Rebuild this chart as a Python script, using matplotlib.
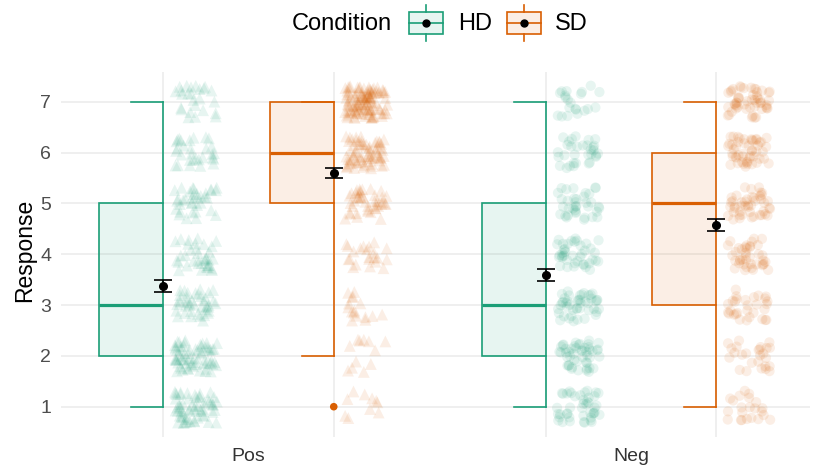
import matplotlib
matplotlib.use("Agg")
import matplotlib.pyplot as plt
import numpy as np
from matplotlib.colors import to_rgba
from matplotlib.patches import Rectangle

plt.rcParams['font.family'] = ['Liberation Sans', 'DejaVu Sans']

# data: number of responses per level (1..7)
levels = [1, 2, 3, 4, 5, 6, 7]
valence = ["Pos", "Neg"]
conditions = ["HD", "SD"]
counts_pos_hd = [60, 65, 40, 35, 35, 30, 25]
counts_pos_sd = [10, 12, 16, 22, 42, 70, 115]
counts_neg_hd = [43, 48, 45, 40, 36, 32, 21]
counts_neg_sd = [22, 26, 30, 40, 45, 50, 52]
counts = {("Pos", "HD"): counts_pos_hd, ("Pos", "SD"): counts_pos_sd,
          ("Neg", "HD"): counts_neg_hd, ("Neg", "SD"): counts_neg_sd}

colors = {"HD": "#1B9E77", "SD": "#D95F02"}
markers = {"Pos": "^", "Neg": "o"}
msize = {"Pos": 72, "Neg": 54}

W, H = 813, 469
fig = plt.figure(figsize=(W / 100, H / 100), dpi=100)


def px_rect(x0, y0, x1, y1):
    return [x0 / W, 1 - y1 / H, (x1 - x0) / W, (y1 - y0) / H]


ax = fig.add_axes(px_rect(61, 72, 810, 437))
ax.set_xlim(0.510, 2.468)
ax.set_ylim(0.404, 7.584)
for s in ax.spines.values():
    s.set_visible(False)

dodge = 0.223
box_w = 0.167
cap_w = 0.084
jit_off = 0.085
jit_w = 0.056
jit_h = 0.32
grid_col = "#EBEBEB"

for lv in levels:
    ax.axhline(lv, color=grid_col, lw=1.1, zorder=0)
for vi in range(len(valence)):
    for c in (-dodge, dodge):
        ax.axvline(vi + 1 + c, color=grid_col, lw=1.1, zorder=0)

# jitter only moves the marks around their level, like geom_jitter
rng = np.random.default_rng(11)

for vi, v in enumerate(valence):
    for c in conditions:
        col = colors[c]
        center = vi + 1 + (-dodge if c == "HD" else dodge)
        data = np.repeat(levels, counts[(v, c)]).astype(float)
        q1, med, q3 = np.percentile(data, [25, 50, 75])
        iqr = q3 - q1
        w_lo = data[data >= q1 - 1.5 * iqr].min()
        w_hi = data[data <= q3 + 1.5 * iqr].max()
        outl = np.unique(data[(data < w_lo) | (data > w_hi)])

        # half boxplot on the left of the position
        ax.add_patch(Rectangle((center - box_w, q1), box_w, q3 - q1,
                               facecolor=to_rgba(col, 0.1), edgecolor=col,
                               lw=1.2, zorder=2))
        ax.plot([center - box_w, center], [med, med], color=col, lw=2.3,
                solid_capstyle="butt", zorder=3)
        ax.plot([center, center], [w_lo, q1], color=col, lw=1.2, zorder=2)
        ax.plot([center, center], [q3, w_hi], color=col, lw=1.2, zorder=2)
        ax.plot([center - cap_w, center], [w_lo, w_lo], color=col, lw=1.2, zorder=2)
        ax.plot([center - cap_w, center], [w_hi, w_hi], color=col, lw=1.2, zorder=2)
        if len(outl):
            ax.scatter(np.full(len(outl), center), outl, s=30, color=col,
                       edgecolors="none", zorder=3)

        # jittered raw responses on the right
        jx = center + jit_off + rng.uniform(-jit_w, jit_w, len(data))
        jy = data + rng.uniform(-jit_h, jit_h, len(data))
        ax.scatter(jx, jy, s=msize[v], marker=markers[v], color=col, alpha=0.1,
                   edgecolors="none", zorder=1)

        # mean +/- standard error
        mean = data.mean()
        se = data.std(ddof=1) / np.sqrt(len(data))
        ax.errorbar(center, mean, yerr=se, fmt="o", color="black", ms=5.5,
                    elinewidth=1.2, capsize=6.5, capthick=1.2, zorder=5)

ax.set_yticks(levels)
ax.set_yticklabels([str(lv) for lv in levels], fontsize=14, color="#4D4D4D")
ax.set_xticks([1, 2])
ax.set_xticklabels(valence, fontsize=14, color="#333333")
ax.tick_params(length=0)
ax.tick_params(axis="y", pad=7)
ax.tick_params(axis="x", pad=8)

fig.text(25 / W, 1 - 250 / H, "Response", rotation=90, ha="center",
         va="center", fontsize=16.5)

# legend along the top
fig.text(292 / W, 1 - 24 / H, "Condition", ha="left", va="center", fontsize=17)
for x0, c, tx in [(409, "HD", 458), (507, "SD", 555)]:
    col = colors[c]
    kax = fig.add_axes(px_rect(x0 - 3, 2, x0 + 37, 44))
    kax.set_xlim(x0 - 3, x0 + 37)
    kax.set_ylim(44, 2)
    kax.axis("off")
    kax.add_patch(Rectangle((x0, 12), 34, 22, facecolor=to_rgba(col, 0.1),
                            edgecolor=col, lw=1.2))
    kax.plot([x0, x0 + 34], [23, 23], color=col, lw=1.2)
    kax.plot([x0 + 17, x0 + 17], [5, 12], color=col, lw=1.2)
    kax.plot([x0 + 17, x0 + 17], [34, 41], color=col, lw=1.2)
    kax.plot([x0 + 17], [23], "o", color="black", ms=5)
    fig.text(tx / W, 1 - 24 / H, c, ha="left", va="center", fontsize=17)

fig.savefig("out.png", dpi=100)
